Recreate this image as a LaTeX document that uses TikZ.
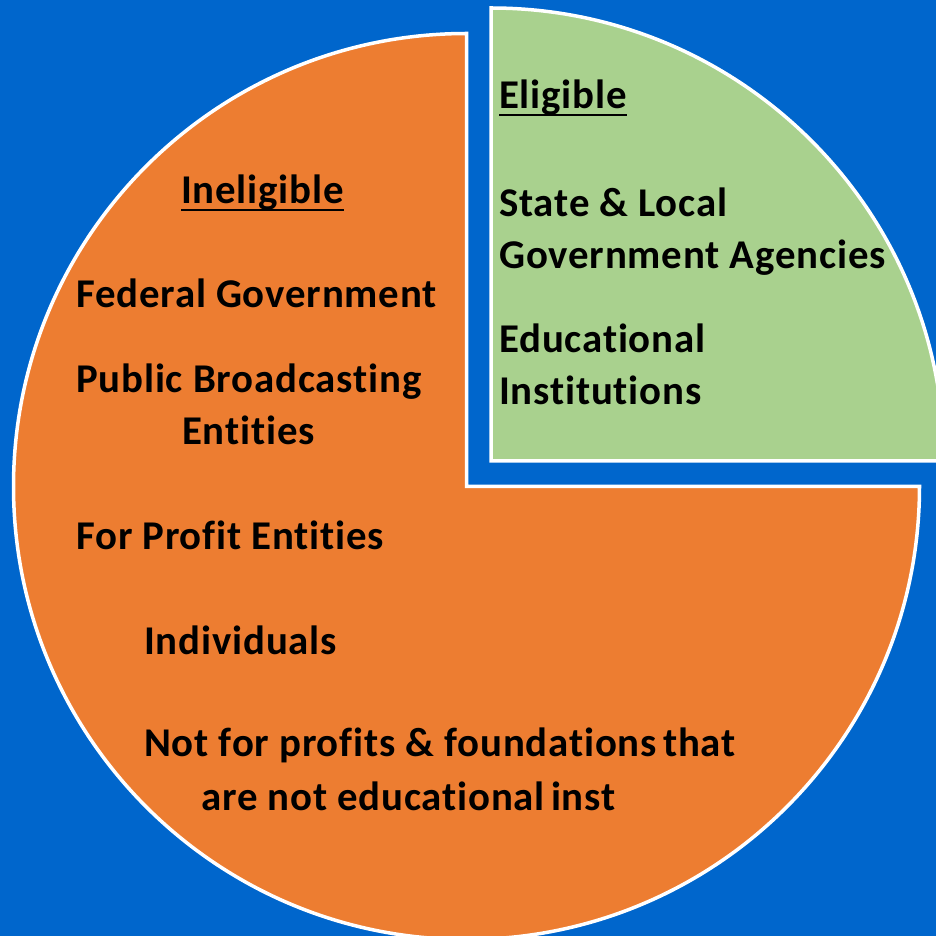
\documentclass[tikz,border=0pt]{standalone}
\usepackage{fontspec}
\setmainfont{Carlito}[Ligatures=NoCommon, LetterSpace=2.0]
\definecolor{bgblue}{HTML}{0066CC}
\definecolor{pieorange}{HTML}{ED7D31}
\definecolor{piegreen}{HTML}{A9D18E}
\tikzset{
  sector/.style={draw=white, line width=3.5bp, line join=miter},
  lbl/.style={anchor=base west, inner sep=0pt, font=\bfseries\fontsize{41}{49}\selectfont, text=black},
  uline/.style={line width=2.5bp, black}
}
\begin{document}
\begin{tikzpicture}[x=1bp,y=1bp]
\useasboundingbox (0,0) rectangle (936,936);
\fill[bgblue] (0,0) rectangle (936,936);
\begin{scope}
\clip (0,0) rectangle (936,936);
\coordinate (O) at (466.5,449.5);
\coordinate (G) at (491,475);
\filldraw[sector, fill=pieorange] (O) -- ++(90:453) arc[start angle=90, end angle=360, radius=453] -- cycle;
\filldraw[sector, fill=piegreen] (G) -- ++(0:453) arc[start angle=0, end angle=90, radius=453] -- cycle;
\end{scope}
% Ineligible
\node[lbl] (inel) at (181,732) {Ineligible};
\draw[uline] ([yshift=-6bp]inel.base west) -- ([yshift=-6bp]inel.base east);
\node[lbl] (fed) at (76,628) {Federal Government};
\node[lbl] (pub1) at (76,543) {Public Broadcasting};
\node[lbl] (pub2) at (182,491) {Entities};
\node[lbl] (prof) at (76,386) {For Profit Entities};
\node[lbl] (indiv) at (144,281) {Individuals};
\node[lbl] (nfp1) at (144,179) {Not for profits \& foundations\hspace{-4bp} that};
\node[lbl] (nfp2) at (201,125) {are not educational\hspace{-4bp} inst};
% Eligible
\node[lbl] (elig) at (499,827) {Eligible};
\draw[uline] ([yshift=-6bp]elig.base west) -- ([yshift=-6bp]elig.base east);
\node[lbl] (st1) at (499,719) {State \& Local};
\node[lbl] (st2) at (499,667) {Government Agencies};
\node[lbl] (ed1) at (499,583) {Educational};
\node[lbl] (ed2) at (499,531) {Institutions};
\end{tikzpicture}
\end{document}
